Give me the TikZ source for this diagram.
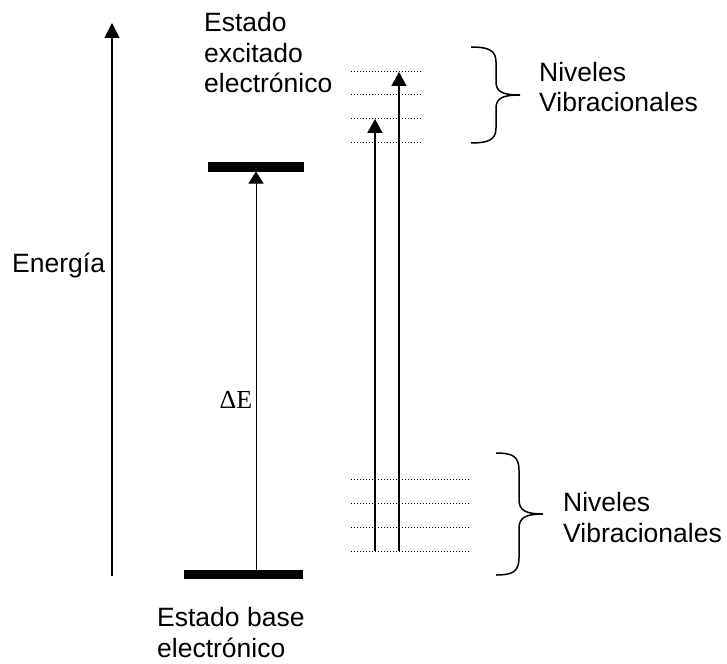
\documentclass[tikz,border=0pt]{standalone}
\usepackage{fontspec}
\setmainfont{Liberation Sans}
\newfontfamily\serifrm{Liberation Serif}
\usetikzlibrary{arrows.meta}
\begin{document}
\begin{tikzpicture}[x=1pt,y=-1pt,
  lbl/.style={anchor=base west,inner sep=0pt,align=left,font=\fontsize{26.5}{30.5}\selectfont},
  levelbar/.style={line width=9pt},
  vibline/.style={line width=1pt,dash pattern=on 1pt off 2pt},
  bracepath/.style={line width=1.5pt},
  bigtip/.style={-{Triangle[length=15pt,width=15pt]}}
]
\useasboundingbox (0,0) rectangle (727,663);

% energy axis
\coordinate (eb) at (112,576);
\coordinate (et) at (112,23);
\draw[line width=1.5pt,bigtip] (eb) -- (et);
\node[lbl] (energia) at (12,272) {Energía};

% electronic levels
\coordinate (t1) at (208,167);
\coordinate (t2) at (304,167);
\draw[levelbar] (t1) -- (t2);
\coordinate (b1) at (184,574.5);
\coordinate (b2) at (303,574.5);
\draw[levelbar] (b1) -- (b2);
\coordinate (mb) at (256,570);
\coordinate (mt) at (256,171.5);
\draw[line width=1pt,-{Triangle[length=12pt,width=15pt]}] (mb) -- (mt);
\node[anchor=base,inner sep=0pt,font=\serifrm\fontsize{26}{30}\selectfont] (dE) at (236,408) {ΔE};

% vibrational levels (top)
\foreach \y [count=\i] in {72,95,119,143}{
  \coordinate (vt\i a) at (351,\y);
  \coordinate (vt\i b) at (421,\y);
  \draw[vibline] (vt\i a) -- (vt\i b);
}
% vibrational levels (bottom)
\foreach \y [count=\i] in {479,503,527,551}{
  \coordinate (vb\i a) at (351,\y);
  \coordinate (vb\i b) at (469,\y);
  \draw[vibline] (vb\i a) -- (vb\i b);
}

% transitions
\coordinate (a1b) at (375,551);
\coordinate (a1t) at (375,119);
\draw[line width=2pt,-{Triangle[length=14pt,width=15pt]}] (a1b) -- (a1t);
\coordinate (a2b) at (399,551);
\coordinate (a2t) at (399,72);
\draw[line width=1.5pt,-{Triangle[length=14pt,width=15pt]}] (a2b) -- (a2t);

% braces
\draw[bracepath] (471,47) .. controls (488,47) and (496,50) .. (496,62)
  -- (496,82) .. controls (496,92) and (503,95) .. (520,95)
  .. controls (503,95) and (496,98) .. (496,108)
  -- (496,128) .. controls (496,140) and (488,143) .. (471,143);
\draw[bracepath] (496,453) .. controls (512,453) and (519,456) .. (519,470)
  -- (519,500) .. controls (519,511) and (527,514) .. (543,514)
  .. controls (527,514) and (519,517) .. (519,528)
  -- (519,558) .. controls (519,572) and (512,575) .. (496,575);

% labels (anchored at the baseline of the last line)
\node[lbl] (excit) at (204,93) {Estado\\excitado\\electrónico};
\node[lbl] (nivtop) at (539,112) {Niveles\\Vibracionales};
\node[lbl] (nivbot) at (563,542) {Niveles\\Vibracionales};
\node[lbl] (base) at (157,657) {Estado base\\electrónico};
\end{tikzpicture}
\end{document}
